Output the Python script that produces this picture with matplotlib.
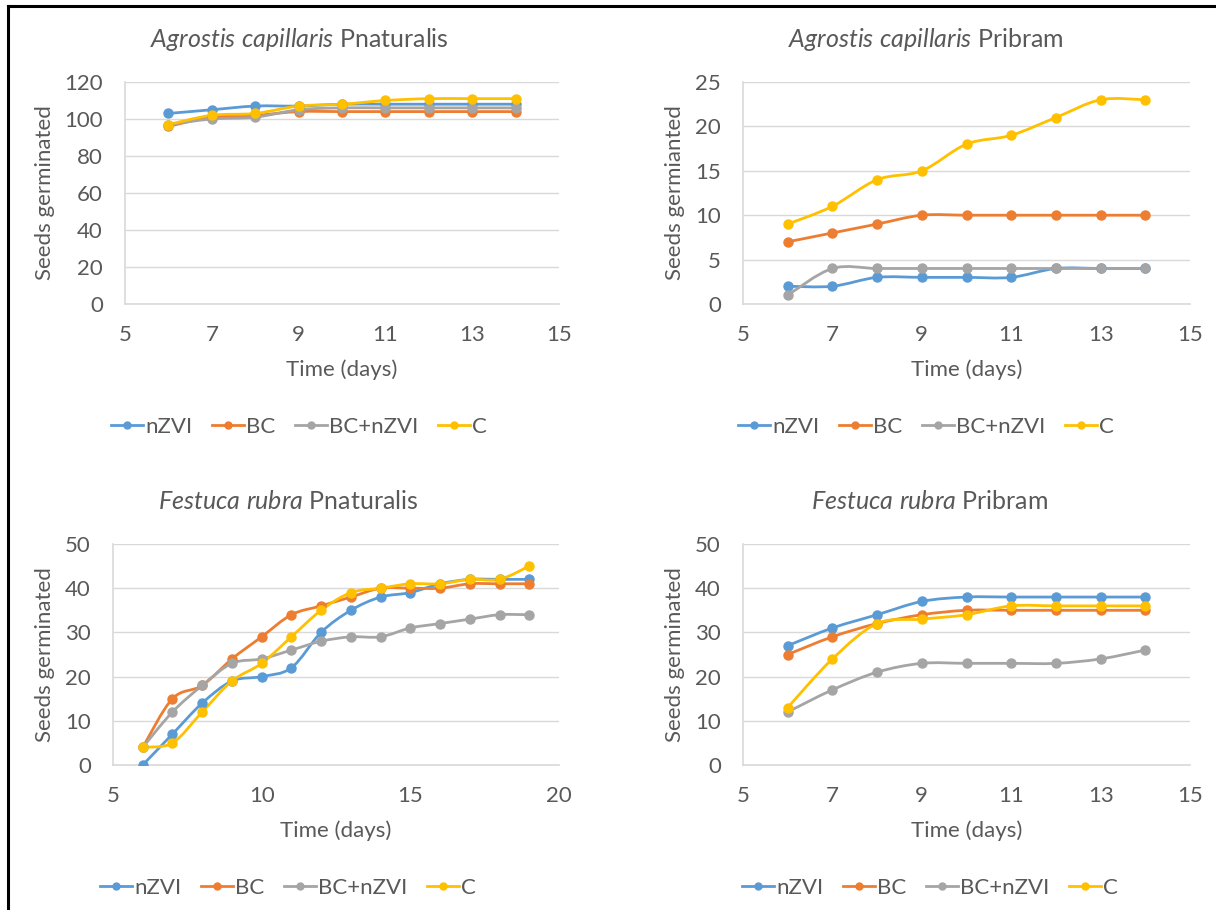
import matplotlib

matplotlib.use("Agg")
import matplotlib.pyplot as plt
from matplotlib.lines import Line2D
from matplotlib.patches import PathPatch
from matplotlib.path import Path

# series names and Excel-style colours
series_names = ["nZVI", "BC", "BC+nZVI", "C"]
series_colors = ["#5B9BD5", "#ED7D31", "#A5A5A5", "#FFC000"]

days_short = [6, 7, 8, 9, 10, 11, 12, 13, 14]
days_long = [6, 7, 8, 9, 10, 11, 12, 13, 14, 15, 16, 17, 18, 19]

# Agrostis capillaris, Pnaturalis
agr_pnat_nzvi = [103, 105, 107, 107, 108, 108, 108, 108, 108]
agr_pnat_bc = [96, 101, 102, 104, 104, 104, 104, 104, 104]
agr_pnat_bcnzvi = [97, 100, 101, 105, 106, 106, 106, 106, 106]
agr_pnat_c = [97, 102, 103, 107, 108, 110, 111, 111, 111]

# Agrostis capillaris, Pribram
agr_prib_nzvi = [2, 2, 3, 3, 3, 3, 4, 4, 4]
agr_prib_bc = [7, 8, 9, 10, 10, 10, 10, 10, 10]
agr_prib_bcnzvi = [1, 4, 4, 4, 4, 4, 4, 4, 4]
agr_prib_c = [9, 11, 14, 15, 18, 19, 21, 23, 23]

# Festuca rubra, Pnaturalis
fes_pnat_nzvi = [0, 7, 14, 19, 20, 22, 30, 35, 38, 39, 41, 42, 42, 42]
fes_pnat_bc = [4, 15, 18, 24, 29, 34, 36, 38, 40, 40, 40, 41, 41, 41]
fes_pnat_bcnzvi = [4, 12, 18, 23, 24, 26, 28, 29, 29, 31, 32, 33, 34, 34]
fes_pnat_c = [4, 5, 12, 19, 23, 29, 35, 39, 40, 41, 41, 42, 42, 45]

# Festuca rubra, Pribram
fes_prib_nzvi = [27, 31, 34, 37, 38, 38, 38, 38, 38]
fes_prib_bc = [25, 29, 32, 34, 35, 35, 35, 35, 35]
fes_prib_bcnzvi = [12, 17, 21, 23, 23, 23, 23, 24, 26]
fes_prib_c = [13, 24, 32, 33, 34, 36, 36, 36, 36]

W, H = 1216, 910
TEXT = "#595959"
GRID = "#D9D9D9"

plt.rcParams["font.family"] = ["Lato", "DejaVu Sans"]
plt.rcParams["mathtext.fontset"] = "custom"
plt.rcParams["mathtext.rm"] = "Lato"
plt.rcParams["mathtext.it"] = "Lato:italic"


def smooth_path(xs, ys):
    # Excel "smoothed line": cubic Bezier through every data point
    pts = list(zip(xs, ys))
    n = len(pts)
    verts = [pts[0]]
    codes = [Path.MOVETO]
    for i in range(n - 1):
        p0 = pts[max(i - 1, 0)]
        p1 = pts[i]
        p2 = pts[i + 1]
        p3 = pts[min(i + 2, n - 1)]
        c1 = (p1[0] + (p2[0] - p0[0]) / 6, p1[1] + (p2[1] - p0[1]) / 6)
        c2 = (p2[0] - (p3[0] - p1[0]) / 6, p2[1] - (p3[1] - p1[1]) / 6)
        verts += [c1, c2, p2]
        codes += [Path.CURVE4] * 3
    return Path(verts, codes)


def draw_panel(fig, box, days, series, title, chart_cx, ylabel, ylim, yticks, xlim, xticks):
    left, top, right, bottom = box
    ax = fig.add_axes([left / W, 1 - bottom / H, (right - left) / W, (bottom - top) / H])
    for values, color in zip(series, series_colors):
        ax.add_patch(PathPatch(smooth_path(days, values), facecolor="none", edgecolor=color,
                               linewidth=2.0, zorder=3))
        ax.plot(days, values, linestyle="none", marker="o", markersize=6.5, color=color, zorder=4)

    ax.set_xlim(*xlim)
    ax.set_ylim(*ylim)
    ax.set_xticks(xticks)
    ax.set_yticks(yticks)
    ax.yaxis.grid(True, color=GRID, linewidth=1.0)
    ax.set_axisbelow(True)
    for side in ("top", "right"):
        ax.spines[side].set_visible(False)
    for side in ("left", "bottom"):
        ax.spines[side].set_color(GRID)
        ax.spines[side].set_linewidth(1.2)
    ax.tick_params(length=0, labelsize=16, labelcolor=TEXT)
    ax.tick_params(axis="y", pad=16)
    ax.tick_params(axis="x", pad=15)

    h = bottom - top
    ax.set_xlabel("Time (days)", fontsize=16, color=TEXT)
    ax.xaxis.set_label_coords(0.5, -55 / h)
    ax.xaxis.label.set_verticalalignment("top")
    ax.set_ylabel(ylabel, fontsize=16, color=TEXT)
    ylab_x = 45 if left < 600 else 675
    ax.yaxis.set_label_coords((ylab_x - left) / (right - left), 0.5)
    ax.yaxis.label.set_verticalalignment("center")

    fig.text(chart_cx / W, 1 - (top - 35) / H, title, ha="center", va="baseline",
             fontsize=18, color=TEXT)

    handles = [Line2D([], [], color=c, linewidth=2.0, marker="o", markersize=5) for c in series_colors]
    ax.legend(handles, series_names, loc="center", bbox_to_anchor=(chart_cx / W, 1 - (bottom + 123) / H),
              bbox_transform=fig.transFigure, ncol=4, frameon=False, fontsize=16,
              handlelength=1.45, handletextpad=0.12, columnspacing=0.85, labelcolor=TEXT)
    return ax


fig = plt.figure(figsize=(W / 100, H / 100), dpi=100)

draw_panel(fig, (125, 82, 559, 304), days_short,
           [agr_pnat_nzvi, agr_pnat_bc, agr_pnat_bcnzvi, agr_pnat_c],
           r"$\mathit{Agrostis\ capillaris}$ Pnaturalis", 299, "Seeds germinated",
           (0, 120), range(0, 121, 20), (5, 15), range(5, 16, 2))
draw_panel(fig, (743, 82, 1190, 304), days_short,
           [agr_prib_nzvi, agr_prib_bc, agr_prib_bcnzvi, agr_prib_c],
           r"$\mathit{Agrostis\ capillaris}$ Pribram", 926, "Seeds germianted",
           (0, 25), range(0, 26, 5), (5, 15), range(5, 16, 2))
draw_panel(fig, (113, 544, 559, 765), days_long,
           [fes_pnat_nzvi, fes_pnat_bc, fes_pnat_bcnzvi, fes_pnat_c],
           r"$\mathit{Festuca\ rubra}$ Pnaturalis", 288, "Seeds germinated",
           (0, 50), range(0, 51, 10), (5, 20), range(5, 21, 5))
draw_panel(fig, (743, 544, 1190, 765), days_short,
           [fes_prib_nzvi, fes_prib_bc, fes_prib_bcnzvi, fes_prib_c],
           r"$\mathit{Festuca\ rubra}$ Pribram", 930, "Seeds germinated",
           (0, 50), range(0, 51, 10), (5, 15), range(5, 16, 2))

# black frame on the left and top edges
fig.add_artist(Line2D([8 / W, 8 / W], [0, 1 - 6 / H], transform=fig.transFigure, color="black", linewidth=2.2))
fig.add_artist(Line2D([8 / W, 1], [1 - 6 / H, 1 - 6 / H], transform=fig.transFigure, color="black", linewidth=2.2))

fig.savefig("out.png", dpi=100)
